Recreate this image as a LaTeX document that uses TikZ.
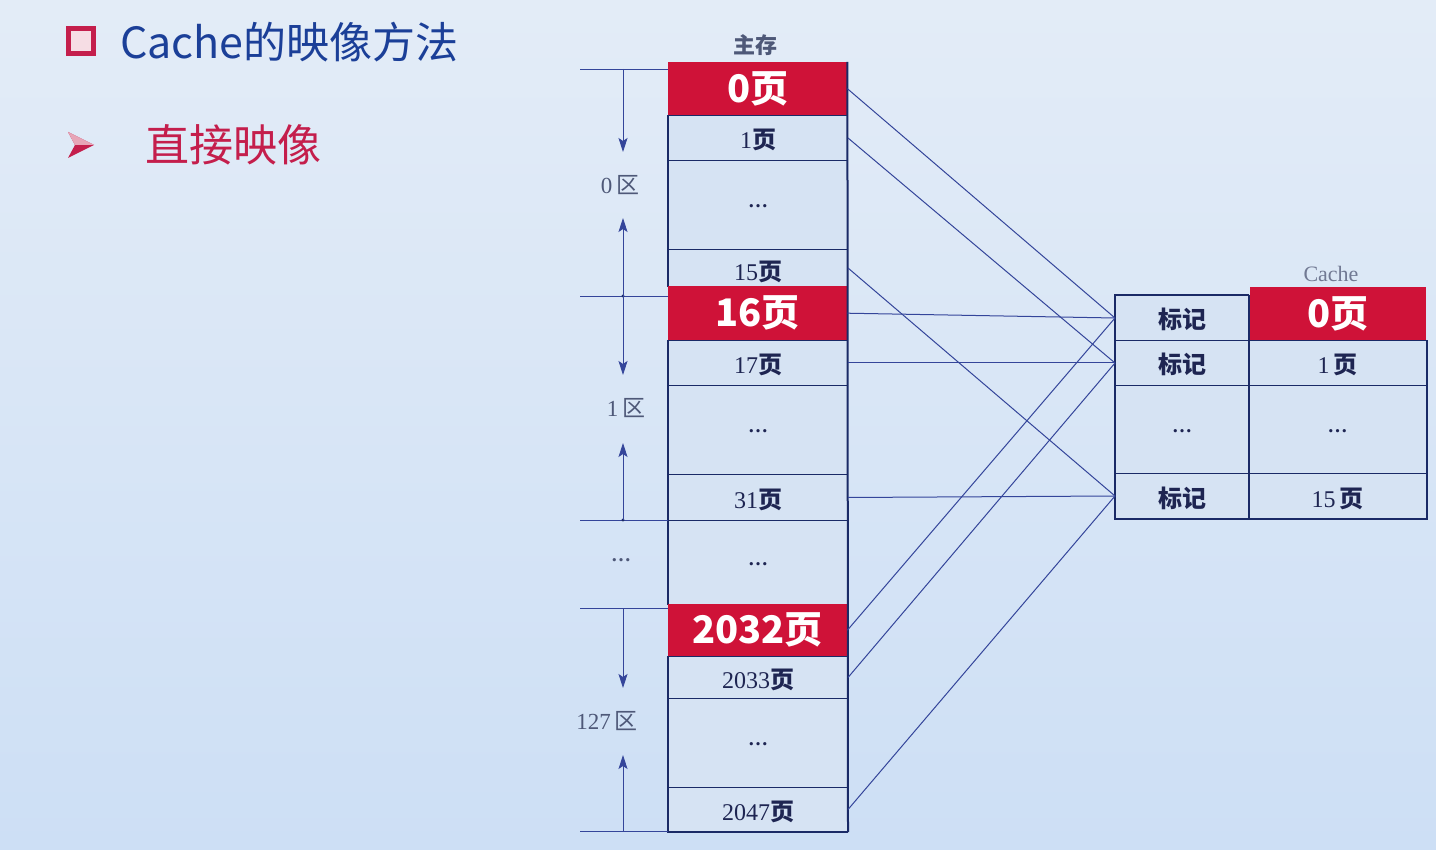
\documentclass[tikz,border=0pt]{standalone}
\usepackage{fontspec}
\setmainfont{Liberation Serif}
\newfontfamily\cjk{Noto Sans CJK SC}
\usetikzlibrary{arrows.meta}
\definecolor{bgtop}{HTML}{E3ECF7}
\definecolor{bgbot}{HTML}{CDDFF5}
\definecolor{cellfill}{HTML}{D6E3F3}
\definecolor{navy}{HTML}{1A2A66}
\definecolor{wire}{HTML}{34459A}
\definecolor{crimson}{HTML}{CF1238}
\definecolor{titleblue}{HTML}{1B3F98}
\definecolor{rose}{HTML}{C41E4C}
\definecolor{ink}{HTML}{1E2552}
\definecolor{greylabel}{HTML}{4E5878}
\newcommand{\ye}{{\cjk\bfseries 页}}
\newcommand{\qu}{{\cjk 区}}
\newcommand{\dotsrow}{\raisebox{8.5pt}{\bfseries\fontsize{20}{20}\selectfont …}}
\newcommand{\zonedots}{{\bfseries\fontsize{20}{20}\selectfont …}}
\begin{document}
\begin{tikzpicture}[x=1pt,y=-1pt,
  cell/.style={draw=navy, line width=1pt, fill=cellfill, anchor=north west,
    inner sep=0pt, text=ink, font=\fontsize{24}{24}\selectfont,
    text height=23pt, text depth=1pt},
  redcell/.style={fill=crimson, anchor=north west, inner sep=0pt, text=white,
    font=\cjk\bfseries\fontsize{38}{38}\selectfont},
  memw/.style={minimum width=179pt},
  tagw/.style={minimum width=133pt},
  pagew/.style={minimum width=178pt},
  frame/.style={draw=navy, line width=2pt},
  dim/.style={draw=wire, line width=0.8pt},
  dimarr/.style={draw=wire, line width=0.9pt, -{Stealth[length=14pt,width=9pt,inset=3pt]}},
  wirel/.style={draw=wire, line width=1pt},
  zone/.style={text=greylabel, font=\fontsize{23}{23}\selectfont, inner sep=0pt},
  caption/.style={text=greylabel, font=\fontsize{22}{22}\selectfont, inner sep=0pt}]
\useasboundingbox (0,0) rectangle (1436,850);
\shade[top color=bgtop, bottom color=bgbot] (0,0) rectangle (1436,850);

% heading
\node[draw=rose, line width=4.5pt, fill=white!85!rose, minimum size=25pt, inner sep=0pt] (sq) at (81,41) {};
\node[anchor=west, inner sep=0pt, text=titleblue, font=\cjk\fontsize{43}{43}\selectfont] (title) at (120,42) {Cache的映像方法};
\fill[rose] (68,132) -- (94,145) -- (68,158) -- (75,145) -- cycle;
\fill[white!60!rose] (68,132) -- (94,145) -- (75,145) -- cycle;
\node[anchor=west, inner sep=0pt, text=rose, font=\cjk\fontsize{44}{44}\selectfont] (sub) at (145,145) {直接映像};

% main memory column
\node[caption] (mainlbl) at (755,45) {\cjk\bfseries 主存};
\node[cell, memw, minimum height=45pt] (m1) at (668,115) {1\ye};
\node[cell, memw, minimum height=89pt] (m2) at (668,160) {\dotsrow};
\node[cell, memw, minimum height=37pt] (m3) at (668,249) {\raisebox{-1.5pt}{15\ye}};
\node[cell, memw, minimum height=45pt] (m5) at (668,340) {17\ye};
\node[cell, memw, minimum height=89pt] (m6) at (668,385) {\dotsrow};
\node[cell, memw, minimum height=46pt] (m7) at (668,474) {31\ye};
\node[cell, memw, minimum height=84pt] (m8) at (668,520) {\dotsrow};
\node[cell, memw, minimum height=42pt] (m10) at (668,656) {2033\ye};
\node[cell, memw, minimum height=89pt] (m11) at (668,698) {\dotsrow};
\node[cell, memw, minimum height=44pt] (m12) at (668,787) {2047\ye};
\draw[frame] (m1.north west) -- (m3.south west);
\draw[frame] (m5.north west) -- (m8.south west);
\draw[frame] (m10.north west) -- (m12.south west) -- (m12.south east);
\node[redcell, memw, minimum height=53pt] (m0) at (668,62) {0页};
\node[redcell, memw, minimum height=54pt] (m4) at (668,286) {16页};
\node[redcell, memw, minimum height=52pt] (m9) at (668,604) {2032页};
\draw[frame] (m0.north east) -- (m12.south east);

% zone markers on the left
\coordinate (ax) at (623,0);
\coordinate (d0) at (580,69);
\coordinate (d1) at (580,296);
\coordinate (d2) at (580,520);
\coordinate (d3) at (580,608);
\coordinate (d4) at (580,831);
\foreach \d in {d0,d1,d2,d3,d4} \draw[dim] (\d) -- (\d -| m1.west);
\foreach \d in {d1,d2} \fill[navy] (\d -| ax) circle (1.6pt);
\draw[dimarr] (d0 -| ax) -- ++(0,83);
\draw[dimarr] (d1 -| ax) -- ++(0,-78);
\draw[dimarr] (d1 -| ax) -- ++(0,79);
\draw[dimarr] (d2 -| ax) -- ++(0,-77);
\draw[dimarr] (d3 -| ax) -- ++(0,80);
\draw[dimarr] (d4 -| ax) -- ++(0,-76);
\node[zone] (z0) at (620,185) {0\,\qu};
\node[zone] (z1) at (626,408) {1\,\qu};
\node[zone] (zd) at (621,560) {\zonedots};
\node[zone] (z127) at (607,721) {127\,\qu};

% cache
\node[caption, text=greylabel!80] (cachelbl) at (1331,274) {Cache};
\node[cell, tagw, minimum height=45pt] (t0) at (1115,295) {\cjk\bfseries 标记};
\node[cell, tagw, minimum height=45pt] (t1) at (1115,340) {\cjk\bfseries 标记};
\node[cell, tagw, minimum height=88pt] (t2) at (1115,385) {\dotsrow};
\node[cell, tagw, minimum height=45pt] (t3) at (1115,473) {\cjk\bfseries 标记};
\node[cell, pagew, minimum height=45pt] (c1) at (1248,340) {1\,\ye};
\node[cell, pagew, minimum height=88pt] (c2) at (1248,385) {\dotsrow};
\node[cell, pagew, minimum height=45pt] (c3) at (1248,473) {15\,\ye};
\node[redcell, minimum width=176pt, minimum height=53pt] (c0) at (1250,287) {0页};
\draw[frame] (t0.north east) -- (t0.north west) -- (t3.south west) -- (c3.south east) -- (c1.north east);
\draw[frame] (t0.north east) -- (t3.south east);

% direct mapping: page i of every zone goes to cache block i
\draw[wirel] (m0.east) -- (t0.west);
\draw[wirel] (m1.east) -- (t1.west);
\draw[wirel] (m3.east) -- (t3.west);
\draw[wirel] (m4.east) -- (t0.west);
\draw[wirel] (m5.east) -- (t1.west);
\draw[wirel] (m7.east) -- (t3.west);
\draw[wirel] (m9.east) -- (t0.west);
\draw[wirel] (m10.east) -- (t1.west);
\draw[wirel] (m12.east) -- (t3.west);
\end{tikzpicture}
\end{document}
